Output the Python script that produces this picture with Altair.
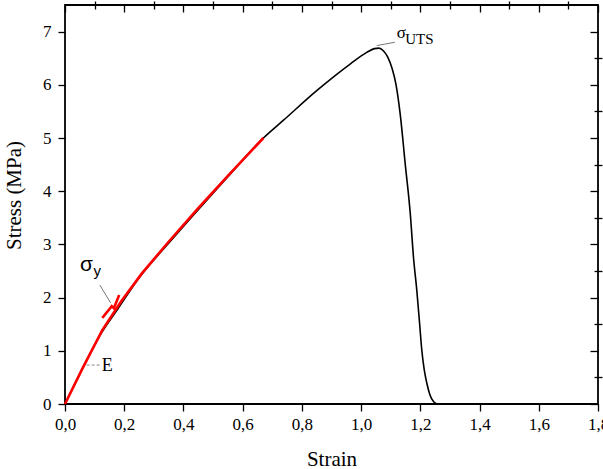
import altair as alt
import pandas as pd

# Measured stress-strain curve
strain = [0.0, 0.06, 0.118, 0.18, 0.253, 0.35, 0.45, 0.55, 0.67, 0.737, 0.85,
          0.963, 1.019, 1.045, 1.06, 1.075, 1.09, 1.105, 1.118, 1.132, 1.149,
          1.166, 1.177, 1.188, 1.197, 1.205, 1.213, 1.222, 1.232, 1.245, 1.256]
stress = [0.0, 0.68, 1.29, 1.80, 2.39, 3.02, 3.65, 4.27, 5.0, 5.33, 5.89,
          6.39, 6.61, 6.68, 6.69, 6.64, 6.52, 6.30, 6.0, 5.45, 4.51,
          3.58, 2.75, 2.14, 1.55, 1.01, 0.65, 0.39, 0.18, 0.04, 0.0]

# Red fitted line (elastic region) and yield marker
fit_strain = [0.0, 0.06, 0.126, 0.19, 0.259, 0.35, 0.45, 0.55, 0.67,
              0.126, 0.158, 0.165, 0.183]
fit_stress = [0.0, 0.68, 1.39, 1.93, 2.45, 3.05, 3.68, 4.29, 5.0,
              1.62, 1.84, 1.80, 2.05]
fit_group = ["fit"] * 9 + ["yield"] * 4

# Annotation leader lines
lead_x = [1.053, 0.118, 0.073]
lead_x2 = [1.114, 0.154, 0.118]
lead_y = [6.737, 2.233, 0.732]
lead_y2 = [6.799, 1.901, 0.732]
lead_dash = ["solid", "solid", "dash"]

# Annotation texts
serif_text = ["σ", "UTS", "E"]
serif_x = [1.12, 1.149, 0.124]
serif_y = [6.885, 6.763, 0.625]
serif_size = [17, 15, 18]

sans_text = ["σ", "y"]
sans_x = [0.0507, 0.0963]
sans_y = [2.50, 2.405]
sans_size = [21, 15]

x_major = [round(0.2 * i, 1) for i in range(10)]
x_minor = [round(0.1 + 0.2 * i, 1) for i in range(9)]
y_major = list(range(8))
y_minor = [0.5 + i for i in range(7)]

curve = pd.DataFrame({"strain": strain, "stress": stress, "i": range(len(strain))})
fit = pd.DataFrame({"strain": fit_strain, "stress": fit_stress, "g": fit_group,
                    "i": range(len(fit_strain))})
leads = pd.DataFrame({"x": lead_x, "x2": lead_x2, "y": lead_y, "y2": lead_y2, "d": lead_dash})
serif = pd.DataFrame({"t": serif_text, "x": serif_x, "y": serif_y, "s": serif_size})
sans = pd.DataFrame({"t": sans_text, "x": sans_x, "y": sans_y, "s": sans_size})

W, H = 533, 399
xs = alt.Scale(domain=[0, 1.8], nice=False, zero=False)
ys = alt.Scale(domain=[0, 7.5], nice=False, zero=False)
FONT = "Liberation Serif"
tick_common = dict(grid=False, domain=False, tickColor="black", tickWidth=1.3)

label_expr = "replace(format(datum.value, '.1f'), '.', ',')"

ax_bottom = alt.Axis(values=x_major, labelExpr=label_expr, title="Strain", tickSize=7,
                     labelPadding=5, labelFont=FONT, labelFontSize=17, labelColor="black",
                     titleFont=FONT, titleFontSize=21, titleFontWeight="normal",
                     titleColor="black", titleX=W / 2, titleY=61,
                     titleBaseline="alphabetic", labelFlush=False, labelOverlap=False,
                     **tick_common)
ax_left = alt.Axis(values=y_major, format="d", title="Stress (MPa)", tickSize=7,
                   labelPadding=7, labelFont=FONT, labelFontSize=17, labelColor="black",
                   titleFont=FONT, titleFontSize=21, titleFontWeight="normal",
                   titleColor="black", titleX=-45, titleY=190, titleAngle=270,
                   titleBaseline="alphabetic", labelFlush=False, labelOverlap=False,
                   **tick_common)
ax_bottom_minor = alt.Axis(values=x_minor, labels=False, title=None, tickSize=4, **tick_common)
ax_left_minor = alt.Axis(values=y_minor, labels=False, title=None, tickSize=4, **tick_common)
ax_top = alt.Axis(values=x_major, labels=False, title=None, tickSize=7, orient="bottom",
                  offset=-H, **tick_common)
ax_top_minor = alt.Axis(values=x_minor, labels=False, title=None, tickSize=4, orient="bottom",
                        offset=-H, **tick_common)
ax_right = alt.Axis(values=y_major, labels=False, title=None, tickSize=8, orient="left",
                    offset=-W, **tick_common)
ax_right_minor = alt.Axis(values=y_minor, labels=False, title=None, tickSize=4, orient="left",
                          offset=-W, **tick_common)

black = alt.Chart(curve).mark_line(color="black", strokeWidth=1.6, interpolate="monotone").encode(
    x=alt.X("strain:Q", scale=xs, axis=ax_bottom),
    y=alt.Y("stress:Q", scale=ys, axis=ax_left),
    order="i:Q",
)

red = alt.Chart(fit).mark_line(color="#ff0000", strokeWidth=2.6).encode(
    x=alt.X("strain:Q", scale=xs, axis=ax_bottom_minor),
    y=alt.Y("stress:Q", scale=ys, axis=ax_left_minor),
    detail="g:N",
    order="i:Q",
)

lead_solid = alt.Chart(leads[leads.d == "solid"]).mark_rule(color="#777777", strokeWidth=1).encode(
    x=alt.X("x:Q", scale=xs, axis=ax_top),
    x2="x2:Q",
    y=alt.Y("y:Q", scale=ys, axis=ax_right),
    y2="y2:Q",
)
lead_dashed = alt.Chart(leads[leads.d == "dash"]).mark_rule(
    color="#888888", strokeWidth=1, strokeDash=[3, 2]).encode(
    x=alt.X("x:Q", scale=xs, axis=ax_top_minor),
    x2="x2:Q",
    y=alt.Y("y:Q", scale=ys, axis=ax_right_minor),
    y2="y2:Q",
)

serif_labels = alt.Chart(serif).mark_text(
    font=FONT, align="left", baseline="alphabetic", color="black").encode(
    x=alt.X("x:Q", scale=xs, axis=None),
    y=alt.Y("y:Q", scale=ys, axis=None),
    text="t:N",
    size=alt.Size("s:Q", scale=None, legend=None),
)
sans_labels = alt.Chart(sans).mark_text(
    font="Liberation Sans", align="left", baseline="alphabetic", color="black").encode(
    x=alt.X("x:Q", scale=xs, axis=None),
    y=alt.Y("y:Q", scale=ys, axis=None),
    text="t:N",
    size=alt.Size("s:Q", scale=None, legend=None),
)

chart = alt.layer(
    black, red, lead_solid, lead_dashed, serif_labels, sans_labels
).resolve_axis(x="independent", y="independent").properties(
    width=W, height=H,
    padding={"left": 65, "top": 5, "right": 5, "bottom": 65},
    autosize=alt.AutoSizeParams(type="none"),
    background="white",
).configure_view(stroke="black", strokeWidth=1.8)

chart.save("out.html", embed_options={"renderer": "svg", "actions": False})
